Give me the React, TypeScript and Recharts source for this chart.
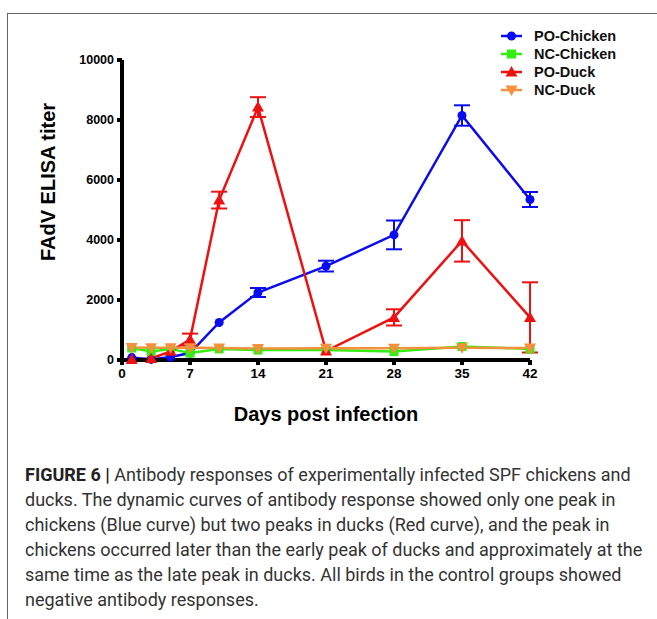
import { LineChart, Line, XAxis, YAxis, ErrorBar, Label } from 'recharts';

const days = [1, 3, 5, 7, 10, 14, 21, 28, 35, 42];
const poChicken = [80, 20, 100, 230, 1250, 2250, 3130, 4170, 8150, 5350];
const poChickenErr = [0, 0, 0, 0, 0, 150, 180, 480, 340, 250];
const ncChicken = [400, 280, 370, 230, 370, 330, 330, 280, 450, 370];
const poDuck = [20, 50, 290, 680, 5330, 8430, 300, 1420, 3970, 1420];
const poDuckErr = [0, 0, 0, 200, 280, 330, 0, 270, 690, 1170];
const ncDuck = [420, 410, 410, 410, 400, 380, 390, 390, 410, 400];

const xTicks = [0, 7, 14, 21, 28, 35, 42];
const yTicks = [0, 2000, 4000, 6000, 8000, 10000];

const series = [
  { key: 'poChicken', name: 'PO-Chicken', color: '#0b0bef', shape: 'circle' },
  { key: 'ncChicken', name: 'NC-Chicken', color: '#33ee11', shape: 'square' },
  { key: 'poDuck', name: 'PO-Duck', color: '#ee1111', shape: 'triangle' },
  { key: 'ncDuck', name: 'NC-Duck', color: '#f5913e', shape: 'triangleDown' },
];

const data = days.map((d, i) => ({
  day: d,
  poChicken: poChicken[i],
  poChickenErr: poChickenErr[i],
  ncChicken: ncChicken[i],
  poDuck: poDuck[i],
  poDuckErr: poDuckErr[i],
  ncDuck: ncDuck[i],
}));

const font = '"Liberation Sans", Arial, sans-serif';

function Marker({ shape, cx, cy, color }: any) {
  if (cx == null || cy == null) return null;
  if (shape === 'circle') return <circle cx={cx} cy={cy} r={4.5} fill={color} />;
  if (shape === 'square') return <rect x={cx - 4.5} y={cy - 4.5} width={9} height={9} fill={color} />;
  if (shape === 'triangle')
    return <polygon points={`${cx},${cy - 6} ${cx + 6},${cy + 4.5} ${cx - 6},${cy + 4.5}`} fill={color} />;
  return <polygon points={`${cx},${cy + 6} ${cx + 6},${cy - 4.5} ${cx - 6},${cy - 4.5}`} fill={color} />;
}

const dotFor = (shape: string, color: string) => (props: any) => (
  <Marker key={`${shape}-${props.index}`} shape={shape} cx={props.cx} cy={props.cy} color={color} />
);

// legend kept outside the chart so it doesn't eat into the plot width
function LegendBox() {
  return (
    <div style={{ position: 'absolute', left: 497, top: 27, fontFamily: font, fontWeight: 'bold', fontSize: 14.5 }}>
      {series.map((s) => (
        <div key={s.key} style={{ display: 'flex', alignItems: 'center', height: 18 }}>
          <svg width={30} height={14} style={{ marginRight: 7 }}>
            <line x1={4} y1={7} x2={25} y2={7} stroke={s.color} strokeWidth={2.5} />
            <Marker shape={s.shape} cx={14.5} cy={7} color={s.color} />
          </svg>
          <span style={{ color: '#111' }}>{s.name}</span>
        </div>
      ))}
    </div>
  );
}

const captionLines = [
  'Antibody responses of experimentally infected SPF chickens and',
  'ducks. The dynamic curves of antibody response showed only one peak in',
  'chickens (Blue curve) but two peaks in ducks (Red curve), and the peak in',
  'chickens occurred later than the early peak of ducks and approximately at the',
  'same time as the late peak in ducks. All birds in the control groups showed',
  'negative antibody responses.',
];

export default function App() {
  return (
    <div style={{ position: 'absolute', left: 0, top: 0, width: 657, height: 619, background: '#fff', overflow: 'hidden' }}>
      <div style={{ position: 'absolute', left: 7, top: 13, width: 660, height: 620, borderLeft: '1.5px solid #666', borderTop: '1.5px solid #666' }} />
      <div style={{ position: 'absolute', left: 0, top: 0 }}>
        <LineChart width={657} height={440} data={data} margin={{ top: 60, right: 127, bottom: 50, left: 0 }}>
          <XAxis
            dataKey="day"
            type="number"
            domain={[0, 42]}
            ticks={xTicks}
            interval={0}
            stroke="#000"
            strokeWidth={4}
            tickSize={5}
            tickMargin={3}
            height={30}
            tick={{ fill: '#000', fontFamily: font, fontWeight: 'bold', fontSize: 13.5 }}
          >
            <Label
              content={({ viewBox }: any) => (
                <text
                  x={viewBox.x + viewBox.width / 2}
                  y={421}
                  textAnchor="middle"
                  fontFamily={font}
                  fontWeight="bold"
                  fontSize={20}
                  fill="#000"
                >
                  Days post infection
                </text>
              )}
            />
          </XAxis>
          <YAxis
            type="number"
            domain={[0, 10000]}
            ticks={yTicks}
            interval={0}
            width={122}
            stroke="#000"
            strokeWidth={4}
            tickSize={5}
            tickMargin={3}
            tick={{ fill: '#000', fontFamily: font, fontWeight: 'bold', fontSize: 12.5 }}
          >
            <Label
              content={() => (
                <text
                  x={55}
                  y={182}
                  transform="rotate(-90 55 182)"
                  textAnchor="middle"
                  fontFamily={font}
                  fontWeight="bold"
                  fontSize={20}
                  fill="#000"
                >
                  FAdV ELISA titer
                </text>
              )}
            />
          </YAxis>
          <Line
            dataKey="poChicken"
            name="PO-Chicken"
            stroke={series[0].color}
            strokeWidth={2.5}
            dot={dotFor('circle', series[0].color)}
            isAnimationActive={false}
          >
            <ErrorBar dataKey="poChickenErr" direction="y" width={8} stroke={series[0].color} strokeWidth={2} />
          </Line>
          <Line
            dataKey="ncChicken"
            name="NC-Chicken"
            stroke={series[1].color}
            strokeWidth={2.5}
            dot={dotFor('square', series[1].color)}
            isAnimationActive={false}
          />
          <Line
            dataKey="poDuck"
            name="PO-Duck"
            stroke={series[2].color}
            strokeWidth={2.5}
            dot={dotFor('triangle', series[2].color)}
            isAnimationActive={false}
          >
            <ErrorBar dataKey="poDuckErr" direction="y" width={8} stroke={series[2].color} strokeWidth={2} />
          </Line>
          <Line
            dataKey="ncDuck"
            name="NC-Duck"
            stroke={series[3].color}
            strokeWidth={2.5}
            dot={dotFor('triangleDown', series[3].color)}
            isAnimationActive={false}
          />
        </LineChart>
      </div>
      <LegendBox />
      <div
        style={{
          position: 'absolute',
          left: 25,
          top: 462,
          width: 630,
          fontFamily: 'Roboto, sans-serif',
          fontSize: 18,
          lineHeight: '25px',
          color: '#333',
          whiteSpace: 'nowrap',
        }}
      >
        {captionLines.map((line, i) => (
          <div key={i}>
            {i === 0 && <b style={{ color: '#222' }}>FIGURE 6 | </b>}
            {line}
          </div>
        ))}
      </div>
    </div>
  );
}
